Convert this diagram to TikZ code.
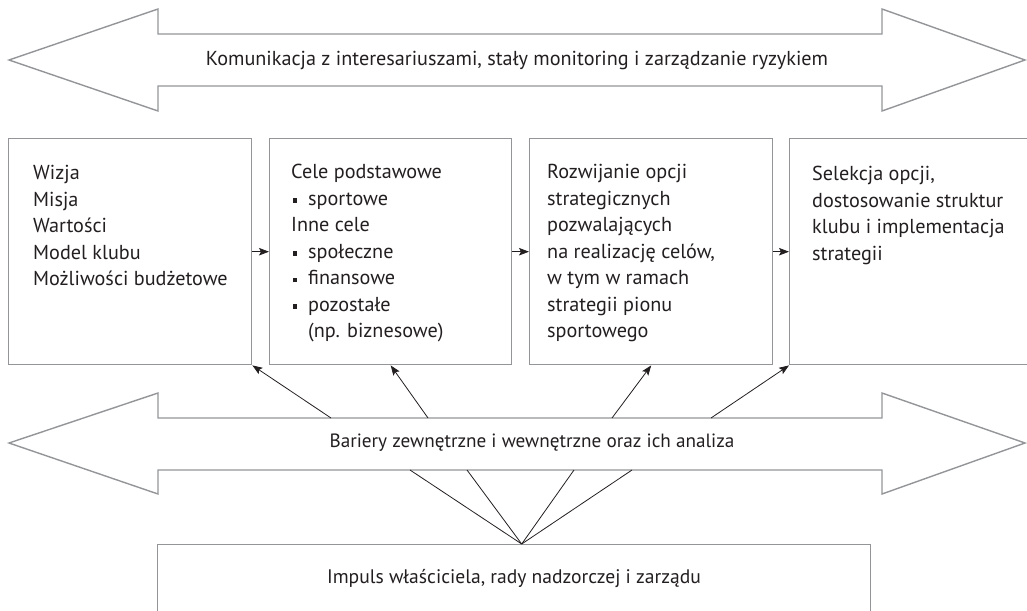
\documentclass[tikz,border=0pt]{standalone}
\usepackage{fontspec}
\setmainfont{PT Sans}
\usetikzlibrary{arrows.meta,calc}
\definecolor{outl}{RGB}{147,149,152}
\definecolor{ink}{RGB}{35,31,32}
\newcommand{\bulsq}{\makebox[17pt][l]{\hspace*{1.5pt}\raisebox{2.2pt}{\rule{4.5pt}{4.5pt}}}}
\begin{document}
\begin{tikzpicture}[x=1pt,y=-1pt,
  outline/.style={draw=outl,line width=1.4pt,line join=miter},
  box/.style={outline,rectangle,inner sep=0pt,anchor=north west},
  txt/.style={text=ink,font=\fontsize{20.2}{26.5}\selectfont,align=left,inner sep=0pt,anchor=north west},
  lbl/.style={text=ink,inner sep=0pt},
  conn/.style={draw=ink,line width=0.8pt,-{Stealth[length=10pt,width=7.5pt,inset=2pt]}},
  fan/.style={draw=ink,line width=0.8pt}]
\useasboundingbox (0,0) rectangle (1027,610);
% top double arrow
\draw[outline] (9,60) -- (158,9) -- (158,34) -- (882,34) -- (882,9) -- (1025,60) -- (882,111) -- (882,86) -- (158,86) -- (158,111) -- cycle;
\node[lbl,font=\fontsize{20.2}{24}\selectfont] (toplbl) at (517,60) {Komunikacja z interesariuszami, stały monitoring i zarządzanie ryzykiem};
% bottom double arrow
\draw[outline] (9,443) -- (158,393) -- (158,418) -- (882,418) -- (882,393) -- (1025,443) -- (882,494) -- (882,470) -- (158,470) -- (158,494) -- cycle;
\node[lbl,font=\fontsize{19.2}{24}\selectfont] (botlbl) at (532,443) {Bariery zewnętrzne i wewnętrzne oraz ich analiza};
% boxes
\node[box,minimum width=243pt,minimum height=226pt] (b1) at (8,138) {};
\node[box,minimum width=242pt,minimum height=226pt] (b2) at (269,138) {};
\node[box,minimum width=243pt,minimum height=226pt] (b3) at (529,138) {};
\node[box,minimum width=260pt,minimum height=226pt] (b4) at (789,138) {};
\node[txt] (t1) at (33,165) {Wizja\\Misja\\Wartości\\Model klubu\\Możliwości budżetowe};
\node[txt] (t2) at (291,164) {Cele podstawowe\\\bulsq sportowe\\Inne cele\\\bulsq społeczne\\\bulsq finansowe\\\bulsq pozostałe\\\hspace*{17pt}(np. biznesowe)};
\node[txt] (t3) at (547,164) {Rozwijanie opcji\\strategicznych\\pozwalających\\na realizację celów,\\w tym w ramach\\strategii pionu\\sportowego};
\node[txt] (t4) at (812,166) {Selekcja opcji,\\dostosowanie struktur\\klubu i implementacja\\strategii};
% bottom box
\node[box,minimum width=713pt,minimum height=90pt] (bb) at (157,544) {};
\node[lbl,font=\fontsize{19.6}{24}\selectfont] (bbl) at (514,579) {Impuls właściciela, rady nadzorczej i zarządu};
% arrows between boxes
\draw[conn] (b1) -- (b2);
\draw[conn] (b2) -- (b3);
\draw[conn] (b3) -- (b4);
% arrows from barriers to boxes
\coordinate (s1) at (331,418);
\coordinate (s2) at (428,418);
\coordinate (s3) at (612,418);
\coordinate (s4) at (711,418);
\draw[conn] (s1) -- (b1.south east);
\draw[conn] (s2) -- (b2.south);
\draw[conn] (s3) -- (b3.south);
\draw[conn] (s4) -- (b4.south west);
% fan from impulse box
\coordinate (f0) at ($(bb.north)+(7.5,0)$);
\coordinate (f1) at (410,470);
\coordinate (f2) at (467,470);
\coordinate (f3) at (574,470);
\coordinate (f4) at (632,470);
\draw[fan] (f0) -- (f1);
\draw[fan] (f0) -- (f2);
\draw[fan] (f0) -- (f3);
\draw[fan] (f0) -- (f4);
\end{tikzpicture}
\end{document}
